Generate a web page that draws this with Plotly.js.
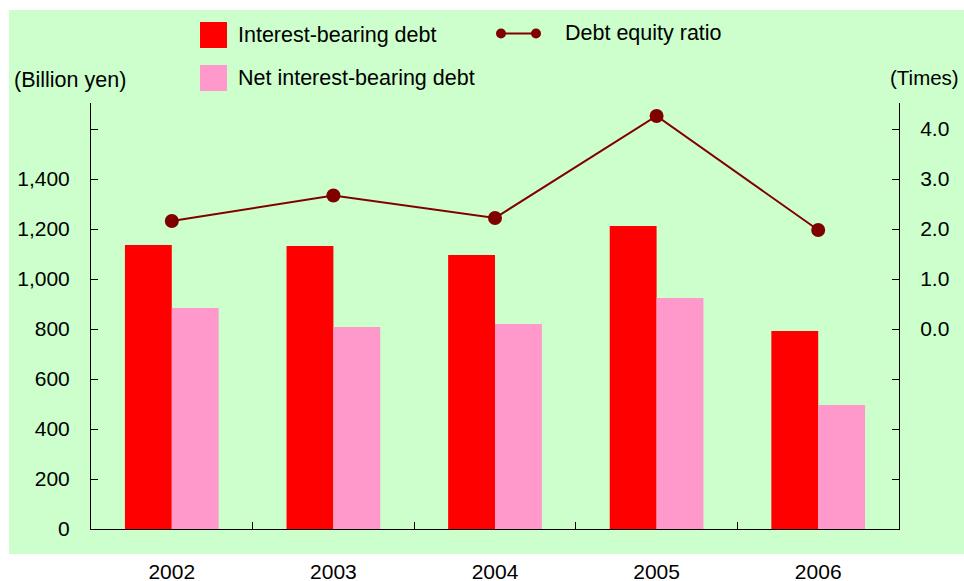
<!DOCTYPE html>
<html>
<head>
<meta charset="utf-8">
<script src="https://cdn.plot.ly/plotly-3.0.1.min.js"></script>
<style>html,body{margin:0;padding:0;background:#fff;}#chart{width:964px;height:581px;}</style>
</head>
<body>
<div id="chart"></div>
<script>
const years = ['2002', '2003', '2004', '2005', '2006'];
const interestBearingDebt = [1136, 1132, 1096, 1212, 792];
const netInterestBearingDebt = [884, 808, 820, 924, 496];
const debtEquityRatio = [2.16, 2.67, 2.22, 4.26, 1.98];
const leftTickVals = [0, 200, 400, 600, 800, 1000, 1200, 1400, 1600];
const leftTickText = ['0', '200', '400', '600', '800', '1,000', '1,200', '1,400', ''];
const rightTickVals = [-4, -3, -2, -1, 0, 1, 2, 3, 4];
const rightTickText = ['', '', '', '', '0.0', '1.0', '2.0', '3.0', '4.0'];

const FONT = '"Liberation Sans", Arial, sans-serif';
const RED = '#FF0000', PINK = '#FF99CC', DARK = '#800000', GREEN = '#CCFFCC';

const traces = [
  {type: 'bar', x: years, y: interestBearingDebt, name: 'Interest-bearing debt',
   marker: {color: RED}, yaxis: 'y', hoverinfo: 'skip'},
  {type: 'bar', x: years, y: netInterestBearingDebt, name: 'Net interest-bearing debt',
   marker: {color: PINK}, yaxis: 'y', hoverinfo: 'skip'},
  {type: 'scatter', mode: 'lines+markers', x: years, y: debtEquityRatio, name: 'Debt equity ratio',
   line: {color: DARK, width: 2}, marker: {color: DARK, size: 14}, yaxis: 'y2', hoverinfo: 'skip'}
];

// pixel -> paper helpers (plot area: x 91..899, y 103..529)
const L = 91, R = 899, T = 103, B = 529;
const px = x => (x - L) / (R - L);
const py = y => (B - y) / (B - T);

const shapes = [
  {type: 'rect', xref: 'paper', yref: 'paper', x0: px(9), x1: px(964), y0: py(554), y1: py(10),
   fillcolor: GREEN, line: {width: 0}, layer: 'below'},
  {type: 'rect', xref: 'paper', yref: 'paper', x0: px(200), x1: px(227), y0: py(48), y1: py(22),
   fillcolor: RED, line: {width: 0}},
  {type: 'rect', xref: 'paper', yref: 'paper', x0: px(200), x1: px(227), y0: py(91), y1: py(65),
   fillcolor: PINK, line: {width: 0}},
  {type: 'line', xref: 'paper', yref: 'paper', x0: px(501), x1: px(536), y0: py(33.5), y1: py(33.5),
   line: {color: DARK, width: 2}},
  {type: 'circle', xref: 'paper', yref: 'paper', x0: px(496), x1: px(506), y0: py(38.5), y1: py(28.5),
   fillcolor: DARK, line: {width: 0}},
  {type: 'circle', xref: 'paper', yref: 'paper', x0: px(531), x1: px(541), y0: py(38.5), y1: py(28.5),
   fillcolor: DARK, line: {width: 0}}
];

const annFont = {family: FONT, size: 21.5, color: '#000'};
const annotations = [
  {xref: 'paper', yref: 'paper', x: px(236), y: py(35), xanchor: 'left', yanchor: 'middle',
   text: 'Interest-bearing debt', showarrow: false, font: annFont},
  {xref: 'paper', yref: 'paper', x: px(236), y: py(78), xanchor: 'left', yanchor: 'middle',
   text: 'Net interest-bearing debt', showarrow: false, font: annFont},
  {xref: 'paper', yref: 'paper', x: px(563), y: py(33), xanchor: 'left', yanchor: 'middle',
   text: 'Debt equity ratio', showarrow: false, font: annFont},
  {xref: 'paper', yref: 'paper', x: px(12), y: py(80), xanchor: 'left', yanchor: 'middle',
   text: '(Billion yen)', showarrow: false, font: annFont},
  {xref: 'paper', yref: 'paper', x: px(961), y: py(78), xanchor: 'right', yanchor: 'middle',
   text: '(Times)', showarrow: false, font: {family: FONT, size: 20.5, color: '#000'}}
];

const tickFont = {family: FONT, size: 21, color: '#000'};
const layout = {
  width: 964, height: 581,
  margin: {l: L, r: 964 - R, t: T, b: 581 - B, pad: 0},
  paper_bgcolor: '#FFFFFF',
  plot_bgcolor: 'rgba(0,0,0,0)',
  showlegend: false,
  barmode: 'group',
  bargap: 0.42,
  bargroupgap: 0,
  font: {family: FONT, size: 21, color: '#000'},
  xaxis: {type: 'category', showline: true, linecolor: '#000', linewidth: 1,
          ticks: 'inside', ticklen: 7, tickcolor: '#000', tickson: 'boundaries',
          showgrid: false, zeroline: false, ticklabelstandoff: 24,
          tickfont: tickFont},
  yaxis: {range: [0, 1704], showline: true, linecolor: '#000', linewidth: 1,
          ticks: 'inside', ticklen: 7, tickcolor: '#000',
          tickvals: leftTickVals, ticktext: leftTickText,
          showgrid: false, zeroline: false, ticklabelstandoff: 16,
          tickfont: tickFont},
  yaxis2: {range: [-4, 4.52], overlaying: 'y', side: 'right', showline: true,
           linecolor: '#000', linewidth: 1, ticks: 'inside', ticklen: 7, tickcolor: '#000',
           tickvals: rightTickVals, ticktext: rightTickText,
           showgrid: false, zeroline: false, ticklabelstandoff: 16,
           tickfont: tickFont},
  shapes: shapes,
  annotations: annotations
};

Plotly.newPlot('chart', traces, layout, {displayModeBar: false, staticPlot: true});
</script>
</body>
</html>
